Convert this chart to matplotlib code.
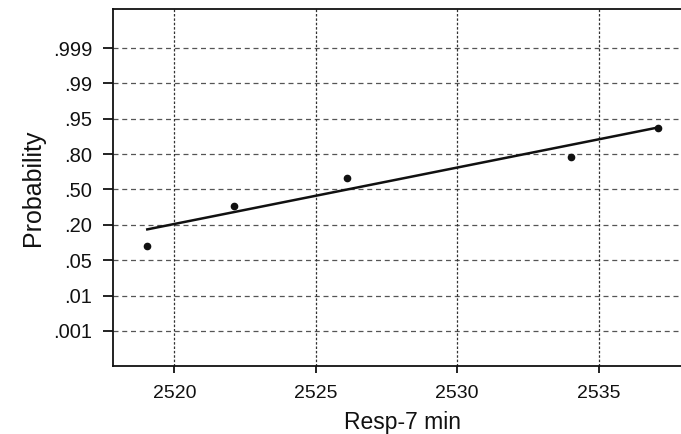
import matplotlib.pyplot as plt
import numpy as np

plt.rcParams['font.family'] = ['Liberation Sans', 'DejaVu Sans']

# probability axis labels, drawn at equal spacing
prob_ticks = [0.001, 0.01, 0.05, 0.20, 0.50, 0.80, 0.95, 0.99, 0.999]
prob_labels = ['.001', '.01', '.05', '.20', '.50', '.80', '.95', '.99', '.999']

# observations (Resp-7 min) and their plotted probabilities
resp = [2519.04, 2522.11, 2526.10, 2534.03, 2537.09]
prob = [0.1115, 0.362, 0.599, 0.776, 0.9125]

# fitted line end points
fit_x = [2519.04, 2537.09]
fit_p = [0.1805, 0.9125]


def to_pos(p):
    # map probability onto the equally spaced tick positions
    return np.interp(p, prob_ticks, np.arange(len(prob_ticks)))


fig = plt.figure(figsize=(6.81, 4.34), dpi=100)
ax = fig.add_axes([0.166, 0.157, 0.85, 0.822])

ax.plot(fit_x, to_pos(fit_p), color='#111111', lw=1.8, zorder=3)
ax.plot(resp, to_pos(prob), 'o', color='#111111', ms=4.5, zorder=4)

ax.set_xlim(2517.83, 2538.3)
ax.set_ylim(-0.99, 9.1)
ax.set_xticks([2520, 2525, 2530, 2535])
ax.set_yticks(np.arange(len(prob_ticks)))
ax.set_yticklabels(prob_labels)

for y in range(len(prob_ticks)):
    ax.axhline(y, color='#555555', lw=0.9, ls=(0, (4, 3)), zorder=1)
for x in [2520, 2525, 2530, 2535]:
    ax.axvline(x, color='#333333', lw=0.9, ls=(0, (2, 1.5)), zorder=1)

for s in ax.spines.values():
    s.set_linewidth(1.3)
    s.set_color('#111111')
ax.spines['right'].set_visible(False)

ax.tick_params(axis='y', direction='out', length=7, width=1.3, pad=8,
               labelsize=14.5, colors='#111111')
ax.tick_params(axis='x', direction='out', length=5, width=1.3, pad=9,
               labelsize=14, colors='#111111')
ax.set_ylabel('Probability', fontsize=18, color='#111111', labelpad=6)
ax.set_xlabel('Resp-7 min', fontsize=16.5, color='#111111', labelpad=6)

fig.savefig('out.png', dpi=100)
